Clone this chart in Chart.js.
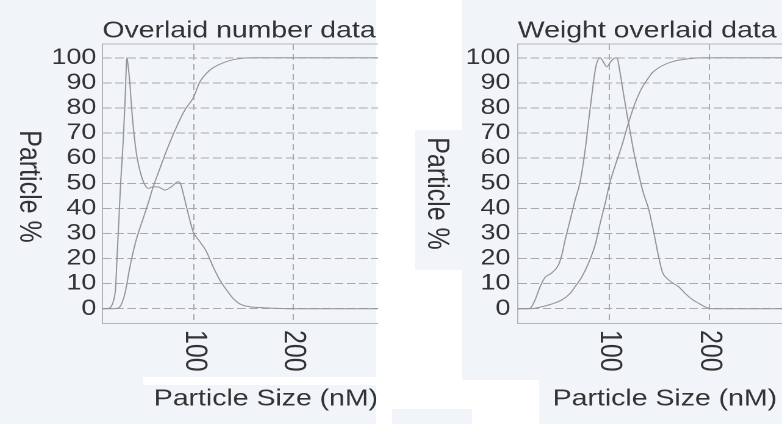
<!DOCTYPE html>
<html>
<head>
<meta charset="utf-8">
<script src="https://cdn.jsdelivr.net/npm/chart.js@4/dist/chart.umd.min.js"></script>
<style>
  html, body { margin: 0; padding: 0; overflow: hidden; }
  body { width: 782px; height: 424px; position: relative; background: #ffffff; }
  .tint { position: absolute; background: #f1f5f9; }
  .paper { position: absolute; background: #ffffff; }
  canvas { position: absolute; top: 0; }
</style>
</head>
<body>
<div class="tint" style="left:0;top:0;width:376px;height:424px"></div>
<div class="paper" style="left:143px;top:377px;width:233px;height:8px"></div>
<div class="tint" style="left:462px;top:0;width:320px;height:380px"></div>
<div class="tint" style="left:415px;top:130px;width:47px;height:140px"></div>
<div class="tint" style="left:539px;top:380px;width:243px;height:44px"></div>
<div class="tint" style="left:392px;top:409px;width:80px;height:15px"></div>

<!-- the figure text is drawn wide, so each canvas is stretched sideways by 1.22 -->
<canvas id="numberChart" width="310" height="424" style="left:0;width:378.2px;height:424px"></canvas>
<canvas id="weightChart" width="344" height="424" style="left:392px;width:419.7px;height:424px"></canvas>

<script>
const yTicks = [0, 10, 20, 30, 40, 50, 60, 70, 80, 90, 100];
const xTicks = [100, 200];

// number distribution (nm, %)
const numDistSize = [7.3, 12, 15, 17, 19, 20.5, 22, 24, 25.7, 28.3, 30.2, 32, 33.5, 35, 36.8, 39.1, 42.4, 46.9, 50, 53.5, 58.6, 64, 70.4, 77, 83.8, 86.5, 88.9, 93.9, 99, 105.8, 112.5, 119.2, 126, 132.7, 139.4, 146.2, 156.3, 166.4, 180, 197, 285.8];
const numDistPct = [0, 0.1, 0.4, 1.5, 4, 8, 20, 36, 50, 67, 83, 100, 96, 90, 80, 70, 60, 52.6, 49.5, 48, 48.6, 48.5, 47.3, 48.6, 50.6, 49.5, 46, 38, 30.7, 26.7, 22.7, 16.7, 11.4, 7.5, 4.1, 1.9, 0.8, 0.5, 0.2, 0, 0];

// number cumulative (nm, %)
const numCumSize = [7.3, 18, 22, 25, 30, 35.1, 38.4, 41.8, 48.5, 53.5, 58.6, 65, 72.1, 82.2, 90.6, 99, 105.8, 115.9, 129.3, 142.8, 159.6, 285.8];
const numCumPct = [0, 0, 0.2, 0.8, 6, 16.7, 22.7, 28, 36, 42, 48.6, 55.5, 63, 72.5, 79.2, 84, 90.4, 95.1, 98, 99.5, 100, 100];

// weight distribution (nm, %)
const wtDistSize = [8.4, 17, 21, 25.7, 30.7, 35.7, 42.4, 49, 52.4, 55.7, 60.7, 65.7, 70.7, 75.7, 79.7, 83, 86.4, 90.7, 94, 97.4, 101, 104.5, 107.4, 110.7, 114, 117.4, 120.7, 124, 129, 134, 139, 144, 149, 153, 157.7, 163, 169, 175.7, 182.4, 189, 195.7, 202.4, 302.4];
const wtDistPct = [0, 0, 0.3, 3.5, 8.8, 12.5, 14.3, 17.4, 21.4, 27.4, 35.3, 43.3, 50.6, 63.2, 76.5, 87.1, 96.4, 100, 98.3, 96.4, 98.3, 99.7, 100, 93.8, 85.8, 77.8, 70.5, 63.2, 54, 46, 40, 31, 21, 14.5, 12, 10.3, 8.8, 6.1, 3.8, 2.2, 0.7, 0, 0];

// weight cumulative (nm, %)
const wtCumSize = [8.4, 20.7, 32.4, 42.4, 52.4, 60.7, 65.7, 72.4, 79, 85.7, 90.7, 95.7, 100.7, 105.7, 112.4, 119, 125.7, 132.4, 139, 142.7, 149, 162.4, 179, 195.7, 302.4];
const wtCumPct = [0, 0, 0.8, 1.9, 3.5, 6.1, 8.8, 12.7, 18.1, 25.4, 34, 42, 50.6, 57, 65, 74, 82, 88, 92, 94, 96, 98.4, 99.6, 100, 100];

const ink = '#333333';
const gridColor = '#a9a9a9';
const frameColor = '#b4b4b4';
const traceColor = '#939393';
const family = '"Liberation Sans", Arial, sans-serif';

function toPoints(xs, ys) {
  return xs.map((x, i) => ({ x: x, y: ys[i] }));
}

function buildPanel(p) {
  return new Chart(document.getElementById(p.id), {
    type: 'line',
    data: {
      datasets: p.series.map(([xs, ys]) => ({
        data: toPoints(xs, ys),
        xAxisID: 'x',
        yAxisID: 'y',
        borderColor: traceColor,
        borderWidth: 1,
        pointRadius: 0,
        fill: false,
        cubicInterpolationMode: 'monotone'
      }))
    },
    options: {
      responsive: false,
      animation: false,
      devicePixelRatio: 2,
      layout: { padding: 0, autoPadding: false },
      plugins: { legend: { display: false }, tooltip: { enabled: false } },
      scales: {
        x: {
          type: 'linear',
          axis: 'x',
          position: 'bottom',
          min: p.xMin,
          max: p.xMax,
          afterBuildTicks: s => { s.ticks = xTicks.map(v => ({ value: v })); },
          afterFit: s => { s.height = 100.7; },
          grid: { color: gridColor, lineWidth: 1, drawTicks: false },
          border: { display: true, color: frameColor, width: 1, dash: [6, 4] },
          ticks: {
            autoSkip: false, minRotation: -90, maxRotation: -90, padding: 48.4,
            color: ink, font: { family: family, size: 25 }
          },
          title: {
            display: true, text: 'Particle Size (nM)', align: p.xTitleAlign, color: ink,
            font: { family: family, size: 23.3, lineHeight: 1.2 },
            padding: { top: 0, bottom: 10.8 }
          }
        },
        xTop: {
          type: 'linear',
          axis: 'x',
          position: 'top',
          min: p.xMin,
          max: p.xMax,
          afterFit: s => { s.height = 44; },
          grid: { drawOnChartArea: false, drawTicks: false },
          border: { display: true, color: frameColor, width: 1 },
          ticks: { display: false },
          title: {
            display: true, text: p.title, align: 'start', color: ink,
            font: { family: family, size: 23.3, lineHeight: 1.15 },
            padding: { top: 17.6, bottom: 0 }
          }
        },
        y: {
          type: 'linear',
          axis: 'y',
          position: 'left',
          weight: 0,
          min: -5.8,
          max: 105.5,
          afterBuildTicks: s => { s.ticks = yTicks.map(v => ({ value: v })); },
          afterFit: s => { s.width = p.yTickWidth; },
          grid: { color: gridColor, lineWidth: 1, drawTicks: false },
          border: { display: true, color: frameColor, width: 1, dash: [7, 3] },
          ticks: {
            autoSkip: false, padding: p.yTickPad, color: ink,
            font: { family: family, size: 22, lineHeight: 1 }
          }
        },
        yLabel: {
          type: 'linear',
          axis: 'y',
          position: 'left',
          weight: 1,
          min: -5.8,
          max: 105.5,
          afterBuildTicks: s => { s.ticks = [{ value: p.yTitleAt }]; },
          afterFit: s => { s.width = p.yTitleWidth; },
          grid: { display: false, drawTicks: false },
          border: { display: false },
          ticks: {
            autoSkip: false,
            callback: () => 'Particle %',
            minRotation: -90, maxRotation: -90, padding: p.yTitlePad,
            color: ink, font: { family: family, size: 25 }
          }
        }
      }
    }
  });
}

buildPanel({
  id: 'numberChart',
  title: 'Overlaid number data',
  xMin: 7.3, xMax: 285.8,
  xTitleAlign: 'end',
  yTickWidth: 42, yTickPad: 5,
  yTitleWidth: 42, yTitlePad: 18.6, yTitleAt: 26.3,
  series: [[numDistSize, numDistPct], [numCumSize, numCumPct]]
});

buildPanel({
  id: 'weightChart',
  title: 'Weight overlaid data',
  xMin: 8.4, xMax: 302.4,
  xTitleAlign: 'center',
  yTickWidth: 43, yTickPad: 6,
  yTitleWidth: 60, yTitlePad: 23.4, yTitleAt: 23.5,
  series: [[wtDistSize, wtDistPct], [wtCumSize, wtCumPct]]
});
</script>
</body>
</html>
